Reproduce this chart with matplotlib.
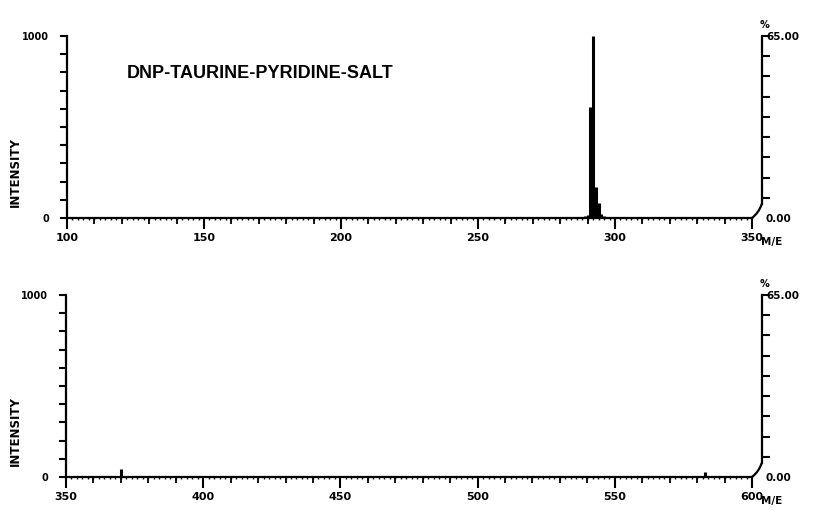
import numpy as np
import matplotlib.pyplot as plt
from matplotlib.ticker import MultipleLocator, FixedLocator, FuncFormatter

plt.rcParams['font.weight'] = 'bold'

title = "DNP-TAURINE-PYRIDINE-SALT"

# upper scan, m/e 100-350
mz_top = [288, 289, 290, 291, 292, 293, 294, 295, 296]
int_top = [8, 12, 15, 610, 1000, 170, 80, 20, 10]

# lower scan, m/e 350-600
mz_bot = [370, 583]
int_bot = [45, 25]

x_ranges = [(100, 350), (350, 600)]
pct_max = 65.0

fig = plt.figure(figsize=(8.13, 5.11), dpi=100)
W, H = 813, 511


def panel(rect, lo, hi, mz, inten, ylab_y):
    ax = fig.add_axes(rect)
    ax.vlines(mz, 0, inten, color='black', lw=2.2)
    ax.set_xlim(lo, hi)
    ax.set_ylim(0, 1000)
    ax.spines['top'].set_visible(False)
    ax.spines['right'].set_visible(False)
    ax.spines['left'].set_linewidth(1.6)
    ax.spines['bottom'].set_linewidth(1.6)

    # x ticks: long every 50, medium every 10, dots every 2
    ax.xaxis.set_major_locator(MultipleLocator(50))
    ax.xaxis.set_minor_locator(MultipleLocator(2))
    ax.tick_params(axis='x', which='major', length=8, width=1.5, labelsize=8, pad=3)
    ax.tick_params(axis='x', which='minor', length=1.5, width=1)
    sec = ax.secondary_xaxis('bottom')
    sec.xaxis.set_major_locator(MultipleLocator(10))
    sec.tick_params(length=4, width=1.3, labelbottom=False)
    sec.spines['bottom'].set_visible(False)

    # left intensity axis
    ax.yaxis.set_major_locator(MultipleLocator(100))
    ax.yaxis.set_major_formatter(
        FuncFormatter(lambda v, p: f"{v:.0f}" if v in (0, 1000) else ""))
    ax.tick_params(axis='y', length=5, width=1.5, labelsize=7, pad=8)
    fig.text(15 / W, ylab_y, 'INTENSITY', rotation=90, ha='center',
             va='center', fontsize=8.5)

    # right percent axis
    ax2 = ax.twinx()
    ax2.set_ylim(0, pct_max)
    for s in ['top', 'left', 'bottom']:
        ax2.spines[s].set_visible(False)
    ax2.spines['right'].set_position(('outward', 7))
    ax2.spines['right'].set_bounds(5, pct_max)
    ax2.spines['right'].set_linewidth(1.6)
    ax2.yaxis.set_major_locator(FixedLocator(np.linspace(0, pct_max, 10)[1:]))
    ax2.yaxis.set_major_formatter(
        FuncFormatter(lambda v, p: f"{v:.2f}" if v == pct_max else ""))
    ax2.yaxis.set_minor_locator(FixedLocator([0]))
    ax2.yaxis.set_minor_formatter(FuncFormatter(lambda v, p: "0.00"))
    ax2.tick_params(axis='y', which='major', length=6, width=1.5,
                    labelsize=7.5, pad=-3)
    ax2.tick_params(axis='y', which='minor', length=0, labelsize=7.5, pad=3)
    ax.annotate('', xy=(1, 0), xycoords='axes fraction', xytext=(7, 10),
                textcoords='offset points',
                arrowprops=dict(arrowstyle='-', lw=1.6, shrinkA=0, shrinkB=0,
                                connectionstyle='arc3,rad=-0.15'))
    ax.annotate('%', xy=(1, 1), xycoords='axes fraction', xytext=(9, 8),
                textcoords='offset points', ha='center', va='center',
                fontsize=7)
    ax.annotate('M/E', xy=(1, 0), xycoords='axes fraction', xytext=(14, -17),
                textcoords='offset points', ha='center', va='center',
                fontsize=7.5)
    return ax


panel([67 / W, 1 - 218 / H, 685 / W, 182 / H], *x_ranges[0],
      mz_top, int_top, 1 - 172 / H)
panel([66 / W, 1 - 477 / H, 686 / W, 182 / H], *x_ranges[1],
      mz_bot, int_bot, 1 - 431 / H)

fig.text(127 / W, 1 - 73 / H, title, ha='left', va='center', fontsize=13,
         fontweight='bold', family='Liberation Sans')

fig.savefig('out.png', dpi=100)
